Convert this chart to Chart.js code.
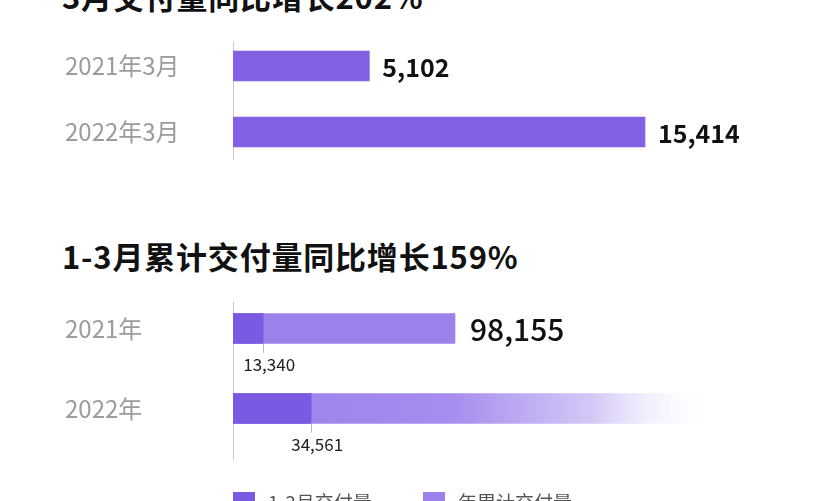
<!DOCTYPE html>
<html>
<head>
<meta charset="utf-8">
<script src="https://cdn.jsdelivr.net/npm/chart.js@4.4.1/dist/chart.umd.min.js"></script>
<style>
  body { margin: 0; background: #fff; width: 831px; height: 501px; overflow: hidden; position: relative; }
  .title { position: absolute; left: 62px; font-family: "Noto Sans CJK SC", sans-serif; font-weight: bold;
           font-size: 31px; line-height: 31px; letter-spacing: 0.8px; color: #111; white-space: nowrap; }
  .box { position: absolute; left: 0; width: 831px; }
</style>
</head>
<body>
<div class="title" style="top:-20px">3月交付量同比增长202%</div>
<div class="box" style="top:30px;height:150px"><canvas id="marchChart"></canvas></div>
<div class="title" style="top:240px">1-3月累计交付量同比增长159%</div>
<div class="box" style="top:280px;height:221px"><canvas id="ytdChart"></canvas></div>
<script>
// 3月交付量
const marchLabels = ['2021年3月', '2022年3月'];
const marchValues = [5102, 15414];

// 1-3月累计
const ytdLabels = ['2021年', '2022年'];
const q1Values = [13340, 34561];      // 1-3月交付量
const yearValues = [98155, 213000];   // 年累计交付量 (2022 bar fades out, no number)
const fadeOut = [false, true];

const purple = '#8262e3';
const darkPurple = '#7a5ae2';
const lightPurple = '#9c81eb';

const fmt = v => v.toLocaleString('en-US');

// thin vertical axis line, a bit shorter/longer than the plot area
const axisLine = {
  id: 'axisLine',
  beforeDatasetsDraw(chart, args, opts) {
    const {ctx, chartArea} = chart;
    ctx.save();
    ctx.strokeStyle = '#c8c8c8';
    ctx.lineWidth = 1;
    ctx.beginPath();
    ctx.moveTo(chartArea.left + 0.5, chartArea.top + opts.top);
    ctx.lineTo(chartArea.left + 0.5, chartArea.bottom + opts.bottom);
    ctx.stroke();
    ctx.restore();
  }
};

const yAxis = {
  afterFit(scale) {
    scale.width = 168;
    scale.paddingTop = 0;
    scale.paddingBottom = 0;
  },
  grid: { display: false },
  border: { display: false },
  ticks: {
    crossAlign: 'far',
    color: '#9b9b9b',
    font: { family: '"Noto Sans CJK SC", sans-serif', size: 24 }
  }
};

// 3月 chart
const marchEnds = {
  id: 'marchEnds',
  afterDatasetsDraw(chart) {
    const {ctx} = chart;
    const meta = chart.getDatasetMeta(0);
    ctx.save();
    ctx.fillStyle = '#111';
    ctx.font = 'bold 25px "Noto Sans CJK SC", sans-serif';
    ctx.textBaseline = 'middle';
    meta.data.forEach((bar, i) => {
      ctx.fillText(fmt(marchValues[i]), bar.x + 13, bar.y + 1);
    });
    ctx.restore();
  }
};

new Chart(document.getElementById('marchChart'), {
  type: 'bar',
  data: {
    labels: marchLabels,
    datasets: [{
      label: '3月交付量',
      data: marchValues,
      backgroundColor: purple,
      barThickness: 30
    }]
  },
  options: {
    indexAxis: 'y',
    responsive: true,
    maintainAspectRatio: false,
    animation: false,
    layout: { padding: { left: 65, right: 10, top: 3, bottom: 15 } },
    scales: {
      x: { display: false, min: 0, max: 22000 },
      y: yAxis
    },
    plugins: {
      legend: { display: false },
      tooltip: { enabled: false },
      axisLine: { top: 9, bottom: -5 }
    }
  },
  plugins: [axisLine, marchEnds]
});

// 1-3月累计 chart
const ytdMarks = {
  id: 'ytdMarks',
  afterDatasetsDraw(chart) {
    const {ctx, chartArea} = chart;
    const q1 = chart.getDatasetMeta(0);
    const yr = chart.getDatasetMeta(1);
    ctx.save();
    q1.data.forEach((bar, i) => {
      const bottom = bar.y + bar.height / 2;
      ctx.strokeStyle = '#b8b8b8';
      ctx.lineWidth = 1;
      ctx.beginPath();
      ctx.moveTo(Math.round(bar.x) + 0.5, bottom);
      ctx.lineTo(Math.round(bar.x) + 0.5, bottom + 9);
      ctx.stroke();
      ctx.fillStyle = '#222';
      ctx.font = '17px "Noto Sans CJK SC", sans-serif';
      ctx.textAlign = 'center';
      ctx.textBaseline = 'middle';
      ctx.fillText(fmt(q1Values[i]), bar.x + 6, bottom + 21);
    });
    yr.data.forEach((bar, i) => {
      if (fadeOut[i]) return;
      ctx.fillStyle = '#111';
      ctx.font = '500 30px "Noto Sans CJK SC", sans-serif';
      ctx.textAlign = 'left';
      ctx.textBaseline = 'middle';
      ctx.fillText(fmt(yearValues[i]), bar.x + 15, bar.y + 1);
    });
    // legend
    const items = chart.data.datasets;
    const y0 = chart.height - 9;
    items.forEach((ds, k) => {
      const x0 = chartArea.left + k * 190;
      ctx.fillStyle = ds.legendColor;
      ctx.fillRect(x0, y0, 22, 22);
      ctx.fillStyle = '#555';
      ctx.font = '19px "Noto Sans CJK SC", sans-serif';
      ctx.textAlign = 'left';
      ctx.textBaseline = 'middle';
      ctx.fillText(ds.label, x0 + 35, y0 + 11);
    });
    ctx.restore();
  }
};

new Chart(document.getElementById('ytdChart'), {
  type: 'bar',
  data: {
    labels: ytdLabels,
    datasets: [{
      label: '1-3月交付量',
      data: q1Values,
      backgroundColor: darkPurple,
      legendColor: darkPurple,
      barThickness: 30,
      grouped: false,
      order: 0
    }, {
      label: '年累计交付量',
      data: yearValues,
      legendColor: lightPurple,
      backgroundColor(c) {
        const chart = c.chart;
        if (!fadeOut[c.dataIndex] || !chart.chartArea) return lightPurple;
        const left = chart.chartArea.left;
        const end = chart.scales.x.getPixelForValue(yearValues[c.dataIndex]);
        const g = chart.ctx.createLinearGradient(left, 0, end, 0);
        g.addColorStop(0, lightPurple);
        g.addColorStop(0.45, '#a68cee');
        g.addColorStop(0.75, '#d5c9f7');
        g.addColorStop(1, 'rgba(255,255,255,0)');
        return g;
      },
      barThickness: 30,
      grouped: false,
      order: 1
    }]
  },
  options: {
    indexAxis: 'y',
    responsive: true,
    maintainAspectRatio: false,
    animation: false,
    layout: { padding: { left: 65, right: 10, top: 8.5, bottom: 52.5 } },
    scales: {
      x: { display: false, min: 0, max: 260000 },
      y: yAxis
    },
    plugins: {
      legend: { display: false },
      tooltip: { enabled: false },
      axisLine: { top: 13.5, bottom: 11.5 }
    }
  },
  plugins: [axisLine, ytdMarks]
});
</script>
</body>
</html>
